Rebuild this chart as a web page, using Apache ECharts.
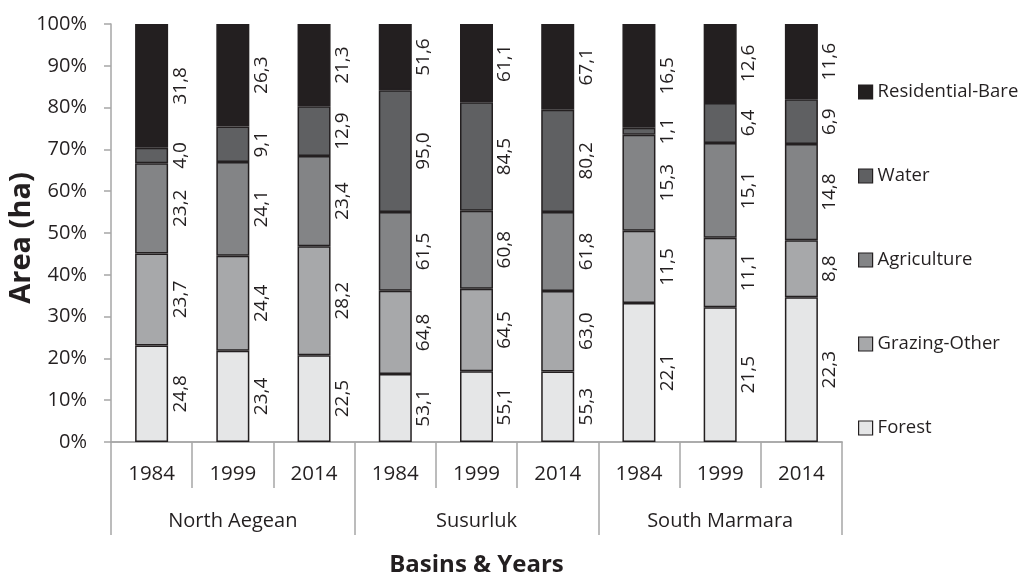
<!DOCTYPE html>
<html>
<head>
<meta charset="utf-8">
<script src="https://cdn.jsdelivr.net/npm/echarts@6/dist/echarts.min.js"></script>
<style>html,body{margin:0;padding:0;background:#fff}#c{width:1020px;height:572px}</style>
</head>
<body>
<div id="c"></div>
<script>
// ---- data ----
const years = ['1984', '1999', '2014', '1984', '1999', '2014', '1984', '1999', '2014'];
const basins = ['North Aegean', 'Susurluk', 'South Marmara'];
const seriesNames = ['Forest', 'Grazing-Other', 'Agriculture', 'Water', 'Residential-Bare'];
const forest      = [24.8, 23.4, 22.5, 53.1, 55.1, 55.3, 22.1, 21.5, 22.3];
const grazing     = [23.7, 24.4, 28.2, 64.8, 64.5, 63.0, 11.5, 11.1, 8.8];
const agriculture = [23.2, 24.1, 23.4, 61.5, 60.8, 61.8, 15.3, 15.1, 14.8];
const water       = [4.0, 9.1, 12.9, 95.0, 84.5, 80.2, 1.1, 6.4, 6.9];
const residential = [31.8, 26.3, 21.3, 51.6, 61.1, 67.1, 16.5, 12.6, 11.6];
const yTicks = [0, 10, 20, 30, 40, 50, 60, 70, 80, 90, 100];

const raw = [forest, grazing, agriculture, water, residential];
const colors = ['#e5e6e7', '#a7a8aa', '#838486', '#5f6062', '#231f20'];
const totals = years.map((_, i) => raw.reduce((s, arr) => s + arr[i], 0));

const FONT = 'Open Sans';
const TXT = '#231f20';
const AX = '#a6a6a6';

const series = raw.map((arr, k) => ({
  name: seriesNames[k],
  type: 'bar',
  stack: 'total',
  barWidth: 33,
  xAxisIndex: 0,
  data: arr.map((v, i) => v / totals[i] * 100),
  itemStyle: { color: colors[k], borderColor: '#231f20', borderWidth: 1.5 },
  label: {
    show: true,
    position: ['100%', '50%'],
    offset: [0, 12],
    rotate: 90,
    align: 'center',
    verticalAlign: 'middle',
    fontFamily: FONT,
    fontSize: 19,
    color: TXT,
    formatter: p => arr[p.dataIndex].toFixed(1).replace('.', ',')
  },
  emphasis: { disabled: true }
}));

const chart = echarts.init(document.getElementById('c'));
chart.setOption({
  animation: false,
  backgroundColor: '#fff',
  grid: { left: 111, right: 178, top: 24, bottom: 130, containLabel: false, outerBoundsMode: 'none' },
  legend: {
    orient: 'vertical',
    left: 858,
    top: 82,
    padding: 0,
    itemWidth: 14,
    itemHeight: 14,
    itemGap: 64,
    icon: 'rect',
    data: ['Residential-Bare', 'Water', 'Agriculture', 'Grazing-Other', 'Forest'],
    itemStyle: { borderColor: '#231f20', borderWidth: 1.2 },
    textStyle: { fontFamily: FONT, fontSize: 18.5, color: TXT, lineHeight: 20 },
    selectedMode: false
  },
  graphic: [
    {
      type: 'text',
      x: 22,
      y: 238,
      rotation: Math.PI / 2,
      style: {
        text: 'Area (ha)',
        fontFamily: FONT, fontSize: 29, fontWeight: 'bold', fill: TXT,
        align: 'center', verticalAlign: 'middle'
      }
    }
  ],
  xAxis: [
    {
      type: 'category',
      position: 'bottom',
      data: years,
      axisLine: { show: true, lineStyle: { color: AX, width: 1.5 } },
      axisTick: { show: true, alignWithLabel: false, interval: 0, length: 46, lineStyle: { color: AX, width: 1.5 } },
      axisLabel: { interval: 0, margin: 22, fontFamily: FONT, fontSize: 20.5, color: TXT },
      name: 'Basins & Years',
      nameLocation: 'middle',
      nameGap: 111,
      nameTextStyle: { fontFamily: FONT, fontSize: 24, fontWeight: 'bold', color: TXT }
    },
    {
      type: 'category',
      position: 'bottom',
      data: basins,
      axisLine: { show: true, lineStyle: { color: AX, width: 1.5 } },
      axisTick: { show: true, interval: 0, length: 93, lineStyle: { color: AX, width: 1.5 } },
      axisLabel: { interval: 0, margin: 69, fontFamily: FONT, fontSize: 20, color: TXT }
    }
  ],
  yAxis: {
    type: 'value',
    min: yTicks[0],
    max: yTicks[yTicks.length - 1],
    interval: yTicks[1] - yTicks[0],
    splitLine: { show: false },
    axisLine: { show: true, lineStyle: { color: AX, width: 1.5 } },
    axisTick: { show: true, length: 7, lineStyle: { color: AX, width: 1.5 } },
    axisLabel: { margin: 24, fontFamily: FONT, fontSize: 20, color: TXT, formatter: '{value}%' }
  },
  series: series
});
</script>
</body>
</html>
